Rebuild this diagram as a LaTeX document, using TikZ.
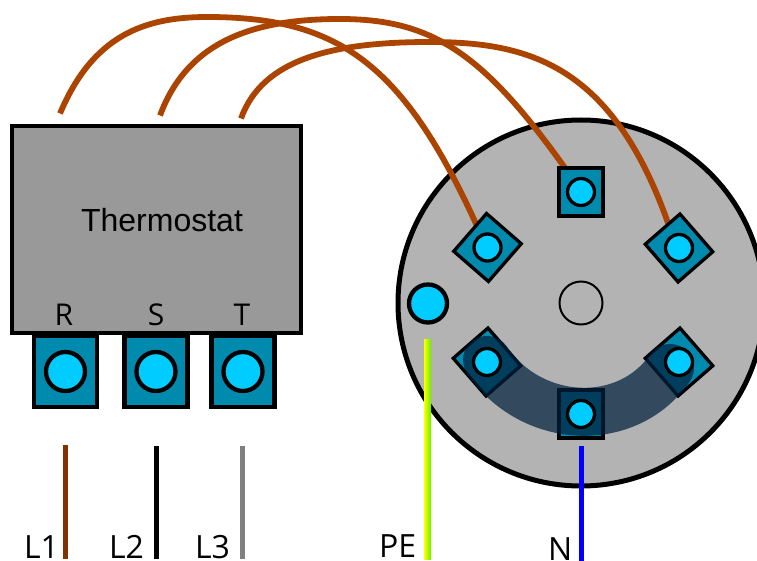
\documentclass[tikz,border=0pt]{standalone}
\usepackage{fontspec}
\setmainfont{Open Sans}
\newfontfamily\thermfont{Liberation Sans}
\definecolor{teal}{HTML}{008AAE}
\definecolor{pin}{HTML}{00CCFF}
\definecolor{plate}{HTML}{B3B3B3}
\definecolor{case}{HTML}{999999}
\definecolor{copper}{HTML}{AA4400}
\definecolor{lone}{HTML}{803300}
\definecolor{bandc}{RGB}{0,31,60}
\definecolor{pegreen}{HTML}{66EE00}
\tikzset{
  every node/.style={inner sep=0pt,outer sep=0pt},
  term/.style={draw=black,line width=3.3pt,fill=teal,minimum width=44pt,minimum height=48pt},
  dterm/.style={term,minimum width=46pt,minimum height=50pt},
  bigterm/.style={draw=black,line width=4.3pt,fill=teal,minimum width=63pt,minimum height=71pt},
  pinc/.style={circle,draw=black,line width=3.3pt,fill=pin,minimum size=27pt},
  bigpin/.style={circle,draw=black,line width=4.3pt,fill=pin,minimum size=39pt},
  lab/.style={font=\fontsize{30}{30}\selectfont,anchor=base,text=black},
  blab/.style={font=\fontsize{32}{32}\selectfont,anchor=base west,text=black},
  coil/.style={draw=copper,line width=5.8pt},
  wire/.style={line width=5pt}
}
\begin{document}
\begin{tikzpicture}[x=1pt,y=-1pt]
\useasboundingbox (0,0) rectangle (757,561);
% plate
\node[circle,draw=black,line width=5pt,fill=plate,minimum size=366pt] (plate) at (581,303) {};
\node[circle,draw=black,line width=2pt,fill=plate,minimum size=43pt] (hub) at (581,303) {};
\node[circle,draw=black,line width=4.3pt,fill=pin,minimum size=38pt] (pe) at (428,303.5) {};
% thermostat
\node[bigterm] (tr) at (65.5,371.5) {};
\node[bigterm] (ts) at (156,371.5) {};
\node[bigterm] (tt) at (243,371.5) {};
\node[draw=black,line width=4.3pt,fill=case,minimum width=289pt,minimum height=207pt] (therm) at (156.5,229.5) {};
\node[anchor=base,font=\thermfont\fontsize{32}{32}\selectfont,text=black] (thl) at (162,232) {Thermostat};
\node[lab] (lr) at (64,325.5) {R};
\node[lab] (ls) at (156,325.5) {S};
\node[lab] (lt) at (242,325.5) {T};
\node[bigpin] (pr) at (tr) {};
\node[bigpin] (ps) at (ts) {};
\node[bigpin] (pt) at (tt) {};
% coils
\coordinate (c1) at (60,113.5);
\coordinate (c2) at (160,115.5);
\coordinate (c3) at (241,118.5);
\coordinate (p1) at (207,17);
\coordinate (p2) at (340,19);
\coordinate (p3) at (430,42);
\coordinate (e1) at (477,226);
\coordinate (e2) at (565,168);
\coordinate (e3) at (668,223);
\draw[coil] (c1) .. controls (93,35) and (145,17) .. (p1) .. controls (338,17) and (403,63) .. (e1);
\draw[coil] (c2) .. controls (188,40) and (255,19) .. (p2) .. controls (432,19) and (483,53) .. (e2);
\draw[coil] (c3) .. controls (262,60) and (330,42) .. (p3) .. controls (529,42) and (612,65) .. (e3);
% terminals on plate
\node[dterm] (a) at (487.5,247.5) [rotate=-41] {};
\node[term] (b) at (581,192) {};
\node[dterm] (c) at (679,248) [rotate=41] {};
\node[dterm] (d) at (487,362) [rotate=41] {};
\node[term] (e) at (581,414) {};
\node[dterm] (f) at (679,362) [rotate=41] {};
% bridge
\coordinate (bs) at (487,360);
\coordinate (be) at (670,368);
\draw[line width=48pt,line cap=round,draw=bandc,opacity=.71] (bs) .. controls (530,424) and (626,431) .. (be);
% pins
\foreach \n/\t in {pa/a,pb/b,pc/c,pd/d,pe2/e,pf/f}{\node[pinc] (\n) at (\t) {};}
% wires
\coordinate (l1a) at (65.8,445); \coordinate (l1b) at (65.8,559);
\coordinate (l2a) at (156.5,446); \coordinate (l2b) at (156.5,559);
\coordinate (l3a) at (242.5,446); \coordinate (l3b) at (242.5,559);
\coordinate (na) at (581.5,446); \coordinate (nb) at (581.5,561);
\draw[wire,draw=lone] (l1a) -- (l1b);
\draw[wire,draw=black] (l2a) -- (l2b);
\draw[wire,draw=black!50] (l3a) -- (l3b);
\draw[wire,draw=blue] (na) -- (nb);
\shade[left color=yellow,right color=pegreen] (424,339) rectangle (431,559);
\node[blab] (l1) at (24,558.5) {L1};
\node[blab] (l2) at (109,558.5) {L2};
\node[blab] (l3) at (195,558.5) {L3};
\node[blab] (lpe) at (379,557) {PE};
\node[blab] (ln) at (548,560.5) {N};
\end{tikzpicture}
\end{document}
